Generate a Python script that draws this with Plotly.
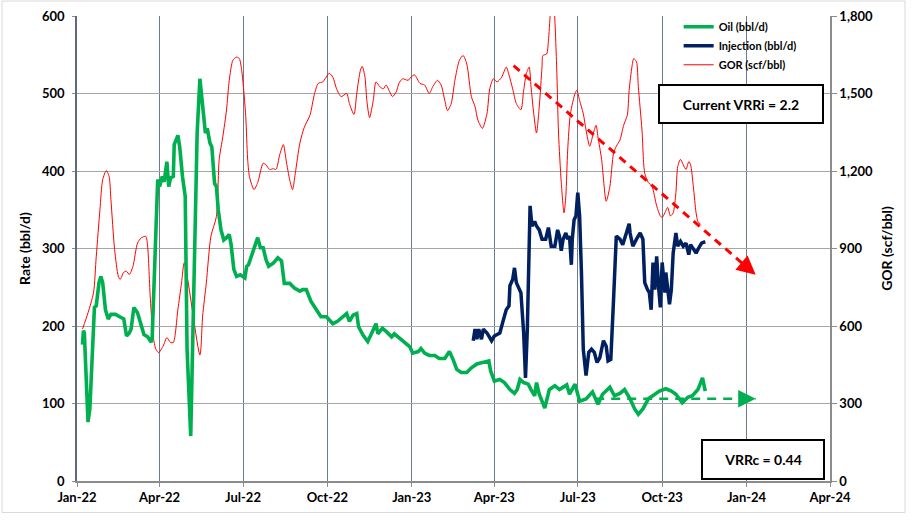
import plotly.graph_objects as go

# ---------------- data ----------------
oil_dates = ["2022-01-07","2022-01-08","2022-01-09","2022-01-13","2022-01-15","2022-01-20","2022-01-22","2022-01-25","2022-01-27","2022-01-29",
 "2022-02-01","2022-02-04","2022-02-07","2022-02-12","2022-02-18","2022-02-21","2022-02-24","2022-02-27","2022-03-01","2022-03-04",
 "2022-03-08","2022-03-12","2022-03-15","2022-03-19","2022-03-23","2022-03-24","2022-03-27","2022-03-30","2022-04-01","2022-04-04",
 "2022-04-06","2022-04-09","2022-04-11","2022-04-13","2022-04-16","2022-04-17","2022-04-21","2022-04-23","2022-04-26","2022-04-29",
 "2022-05-01","2022-05-05","2022-05-07","2022-05-09","2022-05-12","2022-05-15","2022-05-18","2022-05-21","2022-05-23","2022-05-26",
 "2022-05-28","2022-05-31","2022-06-02","2022-06-04","2022-06-07","2022-06-10","2022-06-13","2022-06-16","2022-06-18","2022-06-21",
 "2022-06-24","2022-06-28","2022-07-03","2022-07-05","2022-07-07","2022-07-10","2022-07-14","2022-07-17","2022-07-20","2022-07-23",
 "2022-07-26","2022-07-29","2022-08-03","2022-08-08","2022-08-12","2022-08-15","2022-08-21","2022-08-26","2022-09-01","2022-09-04",
 "2022-09-08","2022-09-13","2022-09-19","2022-09-24","2022-09-30","2022-10-07","2022-10-12","2022-10-18","2022-10-22","2022-10-25",
 "2022-10-29","2022-11-02","2022-11-04","2022-11-09","2022-11-14","2022-11-18","2022-11-23","2022-11-25","2022-11-30","2022-12-04",
 "2022-12-10","2022-12-13","2022-12-19","2022-12-24","2022-12-30","2023-01-02","2023-01-08","2023-01-11","2023-01-15","2023-01-20",
 "2023-01-26","2023-01-31","2023-02-06","2023-02-11","2023-02-15","2023-02-19","2023-02-24","2023-03-02","2023-03-07","2023-03-13",
 "2023-03-18","2023-03-24","2023-03-26","2023-03-28","2023-04-01","2023-04-07","2023-04-12","2023-04-18","2023-04-23","2023-04-26",
 "2023-04-29","2023-05-03","2023-05-08","2023-05-11","2023-05-15","2023-05-17","2023-05-20","2023-05-26","2023-05-31","2023-06-06",
 "2023-06-11","2023-06-19","2023-06-22","2023-06-28","2023-07-03","2023-07-10","2023-07-17","2023-07-23","2023-07-28","2023-08-05",
 "2023-08-10","2023-08-16","2023-08-21","2023-08-27","2023-09-01","2023-09-05","2023-09-10","2023-09-16","2023-09-21","2023-09-28",
 "2023-10-05","2023-10-11","2023-10-16","2023-10-23","2023-10-29","2023-11-03","2023-11-09","2023-11-14","2023-11-17"]
oil_rate = [176,194,191,76,93,224,226,256,264,256,
 221,209,215,215,211,209,187,191,196,224,
 217,200,189,186,179,186,299,389,380,393,
 386,412,380,391,393,434,446,431,393,367,
 170,58,170,299,449,519,483,449,455,436,
 431,384,380,350,324,311,314,318,305,273,
 264,266,262,277,279,290,305,314,301,301,
 286,277,281,288,284,255,255,249,245,247,
 247,232,221,212,212,203,206,212,216,206,
 214,216,199,188,180,190,203,190,197,193,
 186,190,184,180,173,165,167,171,165,162,
 162,158,158,167,157,144,140,140,146,151,
 153,155,155,142,129,131,127,118,113,118,
 131,127,125,118,110,127,112,94,118,123,
 118,124,112,125,103,106,115,99,112,121,
 110,113,118,106,93,86,93,106,110,116,
 119,116,112,101,108,110,118,133,116]

inj_dates = ["2023-03-09","2023-03-11","2023-03-13","2023-03-15","2023-03-18","2023-03-20","2023-03-24","2023-03-29","2023-04-01","2023-04-07",
 "2023-04-10","2023-04-14","2023-04-17","2023-04-18","2023-04-21","2023-04-23","2023-04-25","2023-04-28","2023-04-30","2023-05-03",
 "2023-05-05","2023-05-07","2023-05-10","2023-05-12","2023-05-15","2023-05-17","2023-05-20","2023-05-23","2023-05-27","2023-05-30",
 "2023-06-02","2023-06-06","2023-06-09","2023-06-11","2023-06-13","2023-06-15","2023-06-18","2023-06-20","2023-06-22","2023-06-24",
 "2023-06-25","2023-06-27","2023-06-29","2023-07-01","2023-07-03","2023-07-05","2023-07-07","2023-07-10","2023-07-13","2023-07-16",
 "2023-07-19","2023-07-22","2023-07-25","2023-07-29","2023-08-01","2023-08-03","2023-08-06","2023-08-09","2023-08-12","2023-08-16",
 "2023-08-19","2023-08-23","2023-08-26","2023-08-27","2023-08-30","2023-09-03","2023-09-07","2023-09-10","2023-09-12","2023-09-15",
 "2023-09-17","2023-09-19","2023-09-21","2023-09-23","2023-09-25","2023-09-27","2023-09-29","2023-10-01","2023-10-04","2023-10-05",
 "2023-10-07","2023-10-09","2023-10-11","2023-10-13","2023-10-16","2023-10-18","2023-10-21","2023-10-24","2023-10-27","2023-10-30",
 "2023-11-01","2023-11-05","2023-11-07","2023-11-10","2023-11-13","2023-11-17"]
inj_rate = [181,196,183,196,183,196,191,181,187,191,
 204,221,226,252,260,275,256,249,243,191,
 133,196,355,329,335,329,324,312,312,327,
 303,303,324,316,297,312,320,312,316,279,
 312,337,342,372,342,269,170,136,166,170,
 166,153,159,181,174,155,157,234,316,312,
 305,320,332,320,303,312,320,312,256,247,
 243,221,282,247,290,252,224,282,243,269,
 243,228,247,294,320,303,309,303,307,292,
 305,297,294,301,307,309]

gor_dates = ["2022-01-07","2022-01-13","2022-01-19","2022-01-22","2022-01-26","2022-01-29","2022-02-02","2022-02-05","2022-02-07","2022-02-11",
 "2022-02-15","2022-02-17","2022-02-21","2022-02-24","2022-02-27","2022-03-03","2022-03-08","2022-03-12","2022-03-17","2022-03-19",
 "2022-03-22","2022-03-25","2022-03-28","2022-03-31","2022-04-05","2022-04-09","2022-04-13","2022-04-16","2022-04-21","2022-04-25",
 "2022-04-28","2022-05-15","2022-05-18","2022-05-22","2022-05-27","2022-06-02","2022-06-05","2022-06-09","2022-06-13","2022-06-16",
 "2022-06-20","2022-06-24","2022-06-27","2022-06-30","2022-07-04","2022-07-06","2022-07-08","2022-07-13","2022-07-17","2022-07-23",
 "2022-07-26","2022-07-30","2022-08-03","2022-08-06","2022-08-10","2022-08-14","2022-08-17","2022-08-21","2022-08-24","2022-08-27",
 "2022-09-01","2022-09-06","2022-09-12","2022-09-17","2022-09-21","2022-09-26","2022-10-03","2022-10-07","2022-10-11","2022-10-16",
 "2022-10-22","2022-10-25","2022-10-30","2022-11-02","2022-11-06","2022-11-08","2022-11-11","2022-11-13","2022-11-16","2022-11-20",
 "2022-11-23","2022-11-27","2022-12-01","2022-12-04","2022-12-08","2022-12-11","2022-12-15","2022-12-18","2022-12-22","2022-12-28",
 "2022-12-31","2023-01-04","2023-01-10","2023-01-15","2023-01-20","2023-01-24","2023-01-29","2023-02-02","2023-02-06","2023-02-09",
 "2023-02-13","2023-02-17","2023-02-22","2023-02-26","2023-03-02","2023-03-07","2023-03-11","2023-03-14","2023-03-19","2023-03-24",
 "2023-03-27","2023-03-31","2023-04-04","2023-04-09","2023-04-14","2023-04-17","2023-04-21","2023-04-25","2023-04-30","2023-05-03",
 "2023-05-06","2023-05-09","2023-05-11","2023-05-14","2023-05-17","2023-05-20","2023-05-23","2023-05-24","2023-05-28","2023-05-30",
 "2023-06-01","2023-06-03","2023-06-05","2023-06-08","2023-06-10","2023-06-13","2023-06-16","2023-06-18","2023-06-20","2023-06-23",
 "2023-06-28","2023-06-30","2023-07-03","2023-07-07","2023-07-10","2023-07-14","2023-07-18","2023-07-21","2023-07-23","2023-07-27",
 "2023-08-01","2023-08-05","2023-08-09","2023-08-12","2023-08-16","2023-08-20","2023-08-24","2023-08-26","2023-08-29","2023-08-31",
 "2023-09-03","2023-09-05","2023-09-09","2023-09-12","2023-09-16","2023-09-20","2023-09-25","2023-09-29","2023-10-01","2023-10-04",
 "2023-10-07","2023-10-10","2023-10-13","2023-10-16","2023-10-18","2023-10-21","2023-10-24","2023-10-27","2023-10-30","2023-11-01",
 "2023-11-04","2023-11-07","2023-11-09","2023-11-12"]
gor_value = [588,651,729,870,1050,1166,1202,1179,1089,896,
 793,780,808,812,799,831,921,941,947,909,
 703,561,510,497,523,555,536,536,664,767,
 845,488,639,767,947,1024,1243,1333,1436,1551,
 1629,1641,1635,1577,1410,1250,1179,1128,1155,1230,
 1224,1206,1209,1206,1263,1302,1242,1164,1128,1191,
 1308,1371,1416,1500,1539,1545,1578,1563,1518,1488,
 1500,1461,1419,1500,1590,1605,1563,1473,1407,1473,
 1545,1527,1518,1533,1506,1488,1506,1539,1557,1551,
 1563,1572,1539,1533,1500,1527,1551,1533,1473,1434,
 1461,1551,1629,1647,1614,1488,1449,1398,1365,1422,
 1518,1557,1545,1563,1602,1572,1518,1461,1437,1512,
 1578,1602,1527,1422,1347,1449,1602,1647,1653,1704,
 1809,1900,1850,1602,1347,1155,1038,1104,1281,1422,
 1500,1512,1473,1422,1359,1296,1347,1377,1332,1245,
 1083,1140,1269,1296,1320,1377,1416,1512,1602,1635,
 1623,1527,1359,1191,1155,1140,1065,1026,1020,1038,
 1059,1026,1038,1116,1218,1245,1224,1206,1236,1224,
 1140,1038,1005,993]

# trend arrows
gor_trend_dates = ["2023-04-22", "2024-01-11"]
gor_trend_values = [1608, 798]
oil_trend_dates = ["2023-07-20", "2024-01-11"]
oil_trend_values = [106, 106]

x_range = ["2022-01-01", "2024-04-01"]
rate_range = [0, 600]
gor_range = [0, 1800]

GREEN = "#00b050"
NAVY = "#002060"
RED = "#ff0000"
FONT = "Lato"

fig = go.Figure()

fig.add_trace(go.Scatter(x=oil_dates, y=oil_rate, name="Oil (bbl/d)", yaxis="y2",
                         mode="lines", line=dict(color=GREEN, width=3.6)))
fig.add_trace(go.Scatter(x=inj_dates, y=inj_rate, name="Injection (bbl/d)", yaxis="y2",
                         mode="lines", line=dict(color=NAVY, width=3.5)))
fig.add_trace(go.Scatter(x=gor_dates, y=gor_value, name="GOR (scf/bbl)", yaxis="y",
                         mode="lines", line=dict(color=RED, width=1, shape="spline", smoothing=0.7)))
fig.add_trace(go.Scatter(x=gor_trend_dates, y=gor_trend_values, yaxis="y", mode="lines",
                         showlegend=False, hoverinfo="skip",
                         line=dict(color=RED, width=3, dash="8px,6px")))
fig.add_trace(go.Scatter(x=oil_trend_dates, y=oil_trend_values, yaxis="y2", mode="lines",
                         showlegend=False, hoverinfo="skip",
                         line=dict(color=GREEN, width=2.5, dash="9px,7px")))

tickfont = dict(family=FONT, size=13, color="black", weight="bold")
titlefont = dict(family=FONT, size=14, color="black", weight="bold")

fig.update_layout(
    width=912, height=520,
    margin=dict(l=77, r=82, t=16, b=39, autoexpand=False),
    paper_bgcolor="white", plot_bgcolor="white",
    font=dict(family=FONT, color="black"),
    showlegend=True,
    legend=dict(x=0.799, y=1.008, xanchor="left", yanchor="top",
                bgcolor="rgba(0,0,0,0)", borderwidth=0,
                font=dict(family=FONT, size=11, color="black", weight="bold"),
                tracegroupgap=0, itemwidth=30),
    xaxis=dict(type="date", range=x_range, tick0="2022-01-01", dtick="M3",
               tickformat="%b-%y", tickfont=tickfont, automargin=False,
               showgrid=True, gridcolor="#6d7a8c", gridwidth=1,
               showline=True, linecolor="#8c8c8c", linewidth=1.5,
               ticks="outside", ticklen=4, tickcolor="#8c8c8c",
               mirror=False, zeroline=False),
    yaxis=dict(range=gor_range, dtick=300, tickformat=",", side="right",
               tickfont=tickfont, automargin=False,
               title=dict(text="GOR (scf/bbl)", font=titlefont, standoff=10),
               showgrid=True, gridcolor="#a6a6a6", gridwidth=1.3,
               showline=True, linecolor="#8c8c8c", linewidth=1.5,
               ticks="outside", ticklen=5, tickcolor="#8c8c8c", zeroline=False),
    yaxis2=dict(range=rate_range, dtick=100, overlaying="y", side="left",
                tickfont=tickfont, automargin=False, ticklabelstandoff=5,
                title=dict(text="Rate (bbl/d)", font=titlefont, standoff=8),
                showgrid=False,
                showline=True, linecolor="#5f6b7d", linewidth=1.5,
                ticks="outside", ticklen=3, tickcolor="#8c8c8c", zeroline=False),
)

# arrowheads at the end of trend lines
fig.add_annotation(x=gor_trend_dates[1], y=gor_trend_values[1], xref="x", yref="y",
                   ax=-14, ay=-12, showarrow=True, arrowhead=2, arrowsize=1.25,
                   arrowwidth=3, arrowcolor=RED, text="", standoff=0)
fig.add_annotation(x=oil_trend_dates[1], y=oil_trend_values[1], xref="x", yref="y2",
                   ax=-18, ay=0, showarrow=True, arrowhead=2, arrowsize=1.4,
                   arrowwidth=2.5, arrowcolor=GREEN, text="", standoff=0)

# text boxes
fig.add_annotation(x=(741 - 77) / 753, y=1 - (104 - 16) / 465.5, xref="paper", yref="paper",
                   text="Current VRRi = 2.2", showarrow=False,
                   font=dict(family=FONT, size=14, color="black", weight="bold"),
                   bgcolor="white", bordercolor="black", borderwidth=2,
                   width=160, height=34, xanchor="center", yanchor="middle")
fig.add_annotation(x=(763 - 77) / 753, y=1 - (459.5 - 16) / 465.5, xref="paper", yref="paper",
                   text="VRRc = 0.44", showarrow=False,
                   font=dict(family=FONT, size=14, color="black", weight="bold"),
                   bgcolor="white", bordercolor="black", borderwidth=2,
                   width=118, height=35, xanchor="center", yanchor="middle")

# chart-area border
fig.add_shape(type="rect", xref="paper", yref="paper",
              x0=(2 - 77) / 753, x1=(905 - 77) / 753,
              y0=1 - (513 - 16) / 465.5, y1=1 - (1 - 16) / 465.5,
              line=dict(color="#d9d9d9", width=1), layer="below")

fig.write_html("out.html", config={"displayModeBar": False},
               post_script="document.body.style.margin='0';document.body.style.overflow='hidden';")
